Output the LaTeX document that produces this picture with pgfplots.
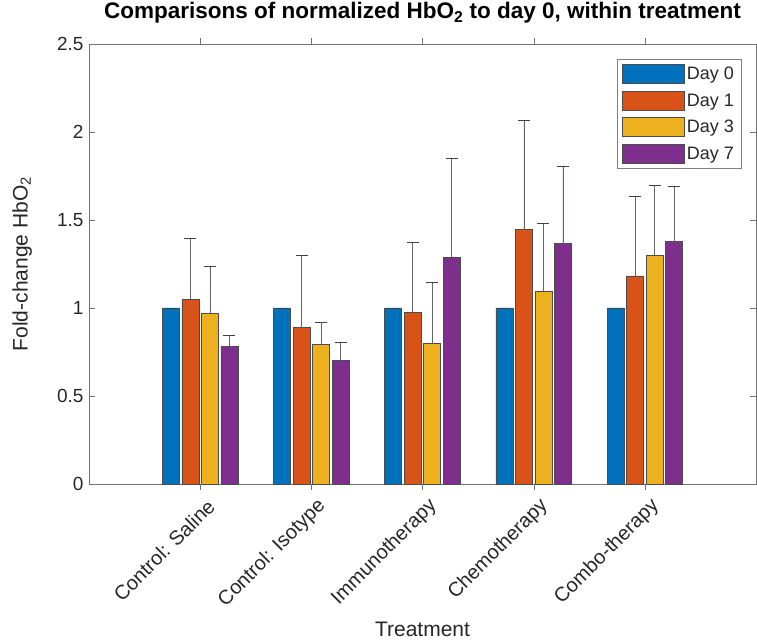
\documentclass[border=0pt]{standalone}
\usepackage{pgfplots}
\pgfplotsset{compat=1.18}
\usepackage{fontspec}
\setmainfont{Liberation Sans}
\definecolor{mblue}{rgb}{0,0.447,0.741}
\definecolor{morange}{rgb}{0.85,0.325,0.098}
\definecolor{myellow}{rgb}{0.929,0.694,0.125}
\definecolor{mpurple}{rgb}{0.494,0.184,0.556}
\definecolor{axgray}{gray}{0.15}
\begin{document}
\begin{tikzpicture}
\begin{axis}[
  scale only axis,
  width=667pt, height=440pt,
  xmin=0, xmax=6, ymin=0, ymax=2.5,
  xtick={1,2,3,4,5},
  xticklabels={Control: Saline,Control: Isotype,Immunotherapy,Chemotherapy,Combo-therapy},
  ytick={0,0.5,1,1.5,2,2.5},
  tick align=inside,
  major tick length=6pt,
  axis line style={draw=black!55},
  tick style={draw=black!55},
  /pgf/number format/assume math mode=true,
  ticklabel style={font=\fontsize{19}{21}\selectfont, text=axgray},
  yticklabel style={xshift=-2pt},
  xticklabel style={font=\fontsize{20}{22}\selectfont, rotate=45, anchor=east, xshift=2pt, yshift=-17pt},
  ybar=2.5pt, bar width=17pt,
  title={\textbf{Comparisons of normalized HbO\textsubscript{2} to day 0, within treatment}},
  title style={font=\fontsize{22.5}{24}\selectfont, at={(axis description cs:0.5,1)}, anchor=base, yshift=19pt},
  xlabel={Treatment},
  xlabel style={font=\fontsize{21}{23}\selectfont, text=axgray, at={(axis description cs:0.5,0)}, anchor=base, yshift=-152pt},
  ylabel={Fold-change HbO\textsubscript{2}},
  ylabel style={font=\fontsize{21}{23}\selectfont, text=axgray, at={(axis description cs:-0.1,0.5)}, anchor=center},
  legend style={at={(1,1)}, anchor=north east, xshift=-15pt, yshift=-15pt, draw=black!50, font=\fontsize{18}{20}\selectfont, row sep=7pt, inner xsep=5pt, inner ysep=5pt, text=black!85},
  legend cell align=left,
  legend image code/.code={\draw[#1, draw=black!70] (0pt,-9.5pt) rectangle (62pt,9.5pt);},
  every axis plot/.append style={draw=black!70, line width=0.6pt},
  error bars/error bar style={draw=black!60, line width=0.8pt},
  error bars/error mark options={draw=black!75, rotate=90, mark size=6pt, line width=0.9pt},
]
\addplot[fill=mblue, error bars/.cd, y dir=plus, y explicit] coordinates {
  (1,1.0) +- (0,0.0) (2,1.0) +- (0,0.0) (3,1.0) +- (0,0.0) (4,1.0) +- (0,0.0) (5,1.0) +- (0,0.0)};
\addplot[fill=morange, error bars/.cd, y dir=plus, y explicit] coordinates {
  (1,1.051) +- (0,0.345) (2,0.888) +- (0,0.413) (3,0.975) +- (0,0.396) (4,1.445) +- (0,0.618) (5,1.182) +- (0,0.453)};
\addplot[fill=myellow, error bars/.cd, y dir=plus, y explicit] coordinates {
  (1,0.968) +- (0,0.269) (2,0.795) +- (0,0.123) (3,0.799) +- (0,0.347) (4,1.097) +- (0,0.382) (5,1.299) +- (0,0.396)};
\addplot[fill=mpurple, error bars/.cd, y dir=plus, y explicit] coordinates {
  (1,0.784) +- (0,0.059) (2,0.704) +- (0,0.101) (3,1.288) +- (0,0.560) (4,1.366) +- (0,0.439) (5,1.377) +- (0,0.312)};
\legend{Day 0,Day 1,Day 3,Day 7}
\end{axis}
\pgfresetboundingbox
\useasboundingbox (current axis.south west) ++(-89pt,-158pt) rectangle ([shift={(1pt,44pt)}]current axis.north east);
\end{tikzpicture}
\end{document}
